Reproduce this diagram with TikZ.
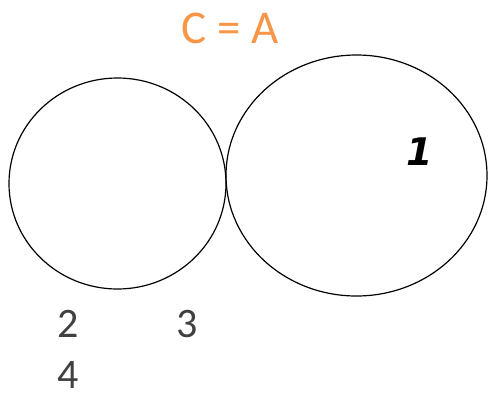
\documentclass[tikz,border=0pt]{standalone}
\usepackage{fontspec}
\setmainfont{Carlito}
\newfontfamily\heavyfont{DejaVu Sans}
\usetikzlibrary{shapes.geometric}
\definecolor{setorange}{HTML}{F79646}
\definecolor{numgray}{HTML}{404040}
\begin{document}
\begin{tikzpicture}[x=1pt, y=-1pt,
  setring/.style={draw, ellipse, line width=1.2pt, inner sep=0pt},
  numlabel/.style={text=numgray, font=\fontsize{42}{44}\selectfont, inner sep=0pt, text depth=0pt}]
\useasboundingbox (0,0) rectangle (488,392);
\node[setring, minimum width=217pt, minimum height=211pt] (left) at (117.5,183.5) {};
\node[setring, minimum width=261pt, minimum height=241pt] (right) at (356.5,175.5) {};
\node[text=setorange, font=\fontsize{47}{49}\selectfont, inner sep=0pt] (title) at (230,28) {C = A};
\node[font=\fontsize{38}{40}\heavyfont\bfseries\itshape, inner sep=0pt] (one) at (420,152) {1};
\node[numlabel] (two) at (68,324) {2};
\node[numlabel] (three) at (187,324) {3};
\node[numlabel] (four) at (68,375) {4};
\end{tikzpicture}
\end{document}
